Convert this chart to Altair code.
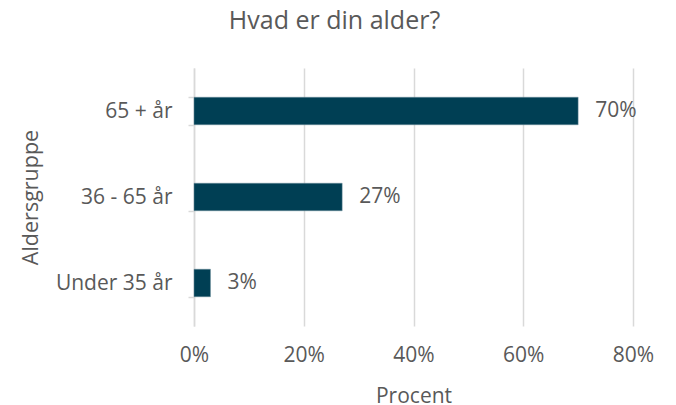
import altair as alt
import pandas as pd

categories = ["65 + år", "36 - 65 år", "Under 35 år"]
values = [0.70, 0.27, 0.03]
labels = ["70%", "27%", "3%"]

df = pd.DataFrame({"Aldersgruppe": categories, "Procent": values, "label": labels})

FONT = "Open Sans"
GREY = "#595959"

y_enc = alt.Y("Aldersgruppe:N", sort=categories, title="Aldersgruppe",
              scale=alt.Scale(paddingInner=0.68, paddingOuter=0.34),
              axis=alt.Axis(domainColor="#d9d9d9", domainWidth=1.5, tickColor="#d9d9d9",
                            tickWidth=1.5, tickSize=6, tickBand="extent", labelPadding=16,
                            labelFontSize=21, labelColor=GREY, labelFont=FONT,
                            titleFontSize=21.5, titleColor=GREY, titleFont=FONT,
                            titleFontWeight="normal", titlePadding=13, grid=False))

x_enc = alt.X("Procent:Q", title="Procent",
              scale=alt.Scale(domain=[0, 0.8]),
              axis=alt.Axis(format=".0%", values=[0, 0.2, 0.4, 0.6, 0.8], domain=False,
                            ticks=False, grid=True, gridColor="#d9d9d9", gridWidth=1.5,
                            labelFlush=False,
                            labelPadding=18, labelFontSize=21, labelColor=GREY, labelFont=FONT,
                            titleFontSize=21, titleColor=GREY, titleFont=FONT,
                            titleFontWeight="normal", titlePadding=20))

bars = alt.Chart(df).mark_bar(color="#003f54", stroke="#6f8f9c", strokeWidth=0.5).encode(x=x_enc, y=y_enc)
text = alt.Chart(df).mark_text(align="left", baseline="middle", dx=17, fontSize=21,
                               color=GREY, font=FONT).encode(
    x="Procent:Q", y=alt.Y("Aldersgruppe:N", sort=categories), text="label:N")

chart = (bars + text).properties(
    width=439, height=258,
    title=alt.TitleParams("Hvad er din alder?", fontSize=25, color=GREY, font=FONT,
                          fontWeight="normal", anchor="middle", dx=-79, offset=23),
    autosize=alt.AutoSizeParams(type="none"),
    padding={"left": 186, "top": 60, "right": 30, "bottom": 79},
).configure_view(stroke=None)

chart.save("out.html", embed_options={"renderer": "svg", "actions": False})
